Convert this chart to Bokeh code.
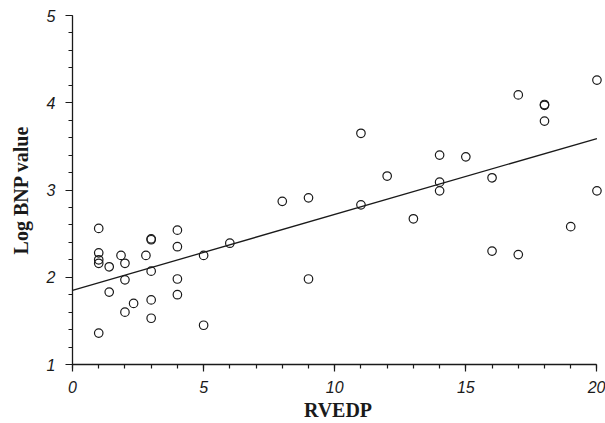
from bokeh.plotting import figure
from bokeh.models import Range1d, FixedTicker, ColumnDataSource
from bokeh.embed import file_html
from bokeh.resources import INLINE

# Data
rvedp = [1, 1, 1, 1, 1,
         1.4, 1.4, 1.85,
         2, 2, 2, 2.33, 2.8,
         3, 3, 3, 3, 3,
         4, 4, 4, 4,
         5, 5, 6, 8, 9, 9,
         11, 11, 12, 13,
         14, 14, 14, 15,
         16, 16, 17, 17,
         18, 18, 18, 19, 20, 20]
log_bnp = [2.56, 2.28, 2.20, 2.16, 1.36,
           2.12, 1.83, 2.25,
           2.16, 1.97, 1.60, 1.70, 2.25,
           2.43, 2.44, 2.07, 1.74, 1.53,
           2.54, 2.35, 1.98, 1.80,
           2.25, 1.45, 2.39, 2.87, 2.91, 1.98,
           3.65, 2.83, 3.16, 2.67,
           3.40, 3.09, 2.99, 3.38,
           3.14, 2.30, 4.09, 2.26,
           3.97, 3.98, 3.79, 2.58, 4.26, 2.99]

fit_intercept = 1.85
fit_slope = 0.087
fit_x = [0, 20]

x_major = [0, 5, 10, 15, 20]
x_minor = [i for i in range(0, 21)]
y_major = [1, 2, 3, 4, 5]
y_minor = [1 + 0.2 * i for i in range(0, 21)]

INK = "#1a1a1a"

p = figure(width=605, height=423, output_backend="svg", toolbar_location=None,
           x_range=Range1d(0, 20.25), y_range=Range1d(1, 5),
           min_border_left=72, min_border_right=2, min_border_top=15, min_border_bottom=58)
p.outline_line_color = None
p.xgrid.grid_line_color = None
p.ygrid.grid_line_color = None
p.background_fill_color = "white"

fit_y = [fit_intercept + fit_slope * v for v in fit_x]
p.line(fit_x, fit_y, line_color=INK, line_width=1.3)

src = ColumnDataSource(dict(x=rvedp, y=log_bnp))
p.scatter("x", "y", source=src, size=8.5, marker="circle",
          fill_color="white", fill_alpha=0.0, line_color=INK, line_width=1.2)

for ax, maj, mnr in ((p.xaxis[0], x_major, x_minor), (p.yaxis[0], y_major, y_minor)):
    ax.ticker = FixedTicker(ticks=maj, minor_ticks=mnr)
    ax.axis_line_color = INK
    ax.axis_line_width = 1.3
    ax.major_tick_line_color = INK
    ax.minor_tick_line_color = INK
    ax.major_tick_line_width = 1.2
    ax.minor_tick_line_width = 1.2
    ax.major_tick_in = 0
    ax.major_tick_out = 7
    ax.minor_tick_in = 0
    ax.minor_tick_out = 4
    ax.major_label_text_font = "Liberation Sans"
    ax.major_label_text_font_style = "italic"
    ax.major_label_text_font_size = "16px"
    ax.major_label_text_color = INK
    ax.axis_label_text_font = "Liberation Serif"
    ax.axis_label_text_font_style = "bold"
    ax.axis_label_text_font_size = "20px"
    ax.axis_label_text_color = INK

p.xaxis[0].bounds = (0, 20)
p.yaxis[0].bounds = (1, 5)
p.xaxis[0].axis_label = "RVEDP"
p.yaxis[0].axis_label = "Log BNP value"
p.xaxis[0].major_label_standoff = 9
p.yaxis[0].major_label_standoff = 10
p.xaxis[0].axis_label_standoff = 3
p.yaxis[0].axis_label_standoff = 12

open("out.html", "w").write(file_html(p, INLINE))
